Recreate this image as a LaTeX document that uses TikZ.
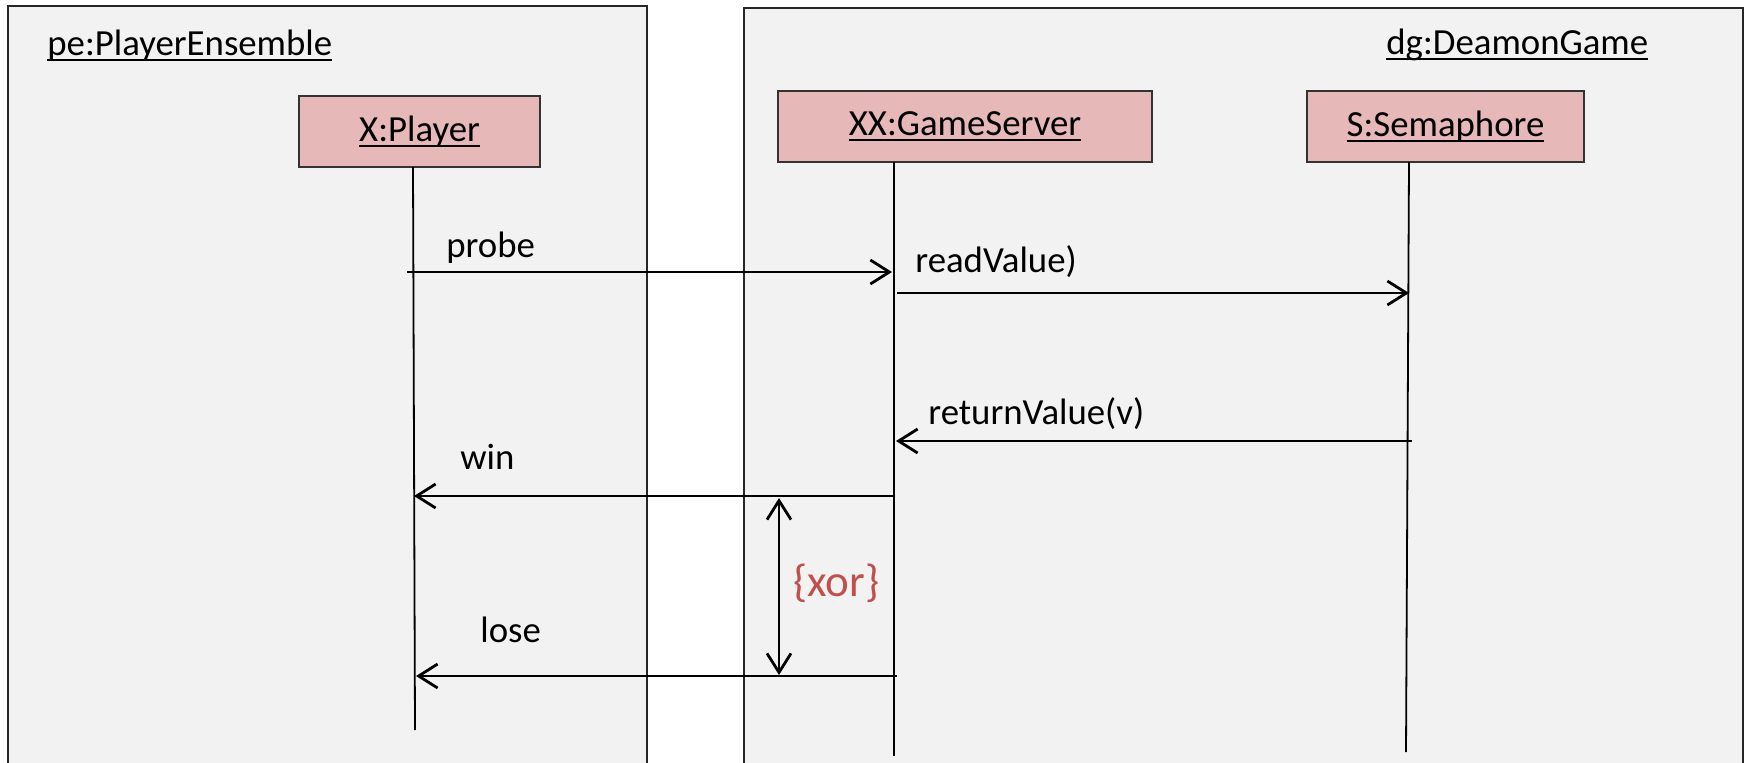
\documentclass[tikz,border=0pt]{standalone}
\usepackage{fontspec}
\setmainfont{Carlito}
\usetikzlibrary{arrows.meta}
\definecolor{framebg}{HTML}{F2F2F2}
\definecolor{objfill}{HTML}{E6B8B7}
\definecolor{xorred}{HTML}{C0504D}
% underlined object name with the rule close under the baseline
\newcommand\objname[1]{\setbox0\hbox{#1}\rlap{\rule[-0.16em]{\wd0}{0.055em}}\box0}
\begin{document}
\begin{tikzpicture}[x=0.5pt,y=-0.5pt,
  frame/.style={draw=black!85, line width=1pt, fill=framebg},
  objbox/.style={draw=black!80, line width=0.9pt, fill=objfill,
    minimum width=#1*0.5pt, minimum height=35.5pt, inner sep=0pt,
    font=\fontsize{18.4}{22}\selectfont},
  lifeline/.style={line width=0.9pt},
  barb/.tip={Straight Barb[length=9.5pt,width=12pt]},
  msg/.style={line width=1.4pt, -barb},
  lbl/.style={anchor=base west, inner sep=0pt, font=\fontsize{18.4}{22}\selectfont}]
\clip (0,0) rectangle (1756,762);

% containing frames
\draw[frame] (8,6) rectangle (647,790);
\draw[frame] (744,8) rectangle (1743,790);
\node[lbl] (pename) at (47,55) {\objname{pe:PlayerEnsemble}};
\node[lbl] (dgname) at (1386,54) {\objname{dg:DeamonGame}};

% objects
\node[objbox=241] (player) at (419.5,131.5) {\objname{X:Player}};
\node[objbox=374] (server) at (965,126.5) {\objname{XX:GameServer}};
\node[objbox=277] (sema) at (1445.5,126.5) {\objname{S:Semaphore}};

% lifelines
\coordinate (pltop) at (413,167);
\coordinate (plbot) at (415,730);
\coordinate (svtop) at (894,162);
\coordinate (svbot) at (894,756);
\coordinate (smtop) at (1409,162);
\coordinate (smbot) at (1406,752);
\draw[lifeline] (pltop) -- (plbot);
\draw[lifeline] (svtop) -- (svbot);
\draw[lifeline] (smtop) -- (smbot);

% messages
\coordinate (probeA) at (407,272);  \coordinate (probeB) at (892,272);
\coordinate (readA) at (897,293);   \coordinate (readB) at (1409,293);
\coordinate (retA) at (1412,441);   \coordinate (retB) at (896,441);
\coordinate (winA) at (893,496);    \coordinate (winB) at (414,496);
\coordinate (loseA) at (897,676);   \coordinate (loseB) at (416,676);
\draw[msg] (probeA) -- (probeB);
\draw[msg] (readA) -- (readB);
\draw[msg] (retA) -- (retB);
\draw[msg] (winA) -- (winB);
\draw[msg] (loseA) -- (loseB);

\node[lbl] (probel) at (446,257) {probe};
\node[lbl] (readl) at (915,272) {readValue)};
\node[lbl] (retl) at (928,424) {returnValue(v)};
\node[lbl] (winl) at (460,469) {win};
\node[lbl] (losel) at (480,642) {lose};

% xor constraint between the two replies
\coordinate (xorA) at (779,498);
\coordinate (xorB) at (779,675);
\draw[line width=1.4pt, barb-barb] (xorA) -- (xorB);
\node[lbl, text=xorred, font=\fontsize{22.5}{26}\selectfont] (xorl) at (793,596) {\{xor\}};
\end{tikzpicture}
\end{document}
